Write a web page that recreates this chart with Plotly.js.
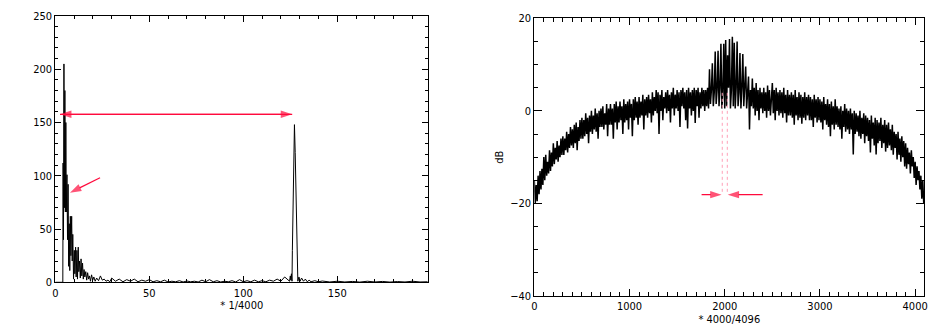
<!DOCTYPE html>
<html><head><meta charset="utf-8">
<script src="https://cdn.plot.ly/plotly-3.0.1.min.js"></script>
<style>html,body{margin:0;padding:0;background:#fff;} #chart{width:943px;height:334px;}</style>
</head><body><div id="chart"></div>
<script>
// ---- Left panel: spectrum (x in units of 1/4000) ----
const specX = [0, 4.0, 4.15, 4.35, 4.6, 4.85, 5.1, 5.35, 5.6, 5.85, 6.2, 6.5, 6.8, 7.1, 7.4, 7.7, 8.0, 8.3, 8.7, 9.0,
  9.3, 9.7, 10.1, 10.4, 10.8, 11.1, 11.5, 11.8, 12.2, 12.5, 12.9, 13.3, 13.7, 14.1, 14.5, 14.9, 15.3, 15.7, 16.2, 16.7,
  17.2, 17.7, 18.2, 18.7, 19.3, 19.9, 20.5, 21.2, 22, 23, 24, 25, 26, 27, 28, 29,
  30, 32, 34, 36, 38, 40, 42, 44, 46, 48, 50, 52, 54, 56, 58, 60, 62, 64, 66, 68, 70, 72, 74, 76, 78,
  80, 82, 84, 86, 88, 90, 92, 94, 96, 98, 100, 102, 104, 106, 108, 110, 112, 114, 116, 118, 120, 122, 124,
  124.6, 125.0, 125.3, 125.6, 125.9, 126.1, 126.4, 126.8, 127.2, 127.6, 128.0, 128.3, 128.6, 129.0, 129.6, 130.2,
  131, 132, 133, 134, 135, 136, 138, 140, 142, 146, 150, 154, 158, 162, 166, 170, 174, 178, 182, 186, 190, 194, 198];
const specY = [0, 0, 112, 40, 205, 70, 180, 66, 150, 66, 101, 40, 92, 15, 55, 11, 62, 25, 62, 20,
  45, 3, 30, 8, 33, 5, 30, 3, 33, 10, 20, 4, 22, 6, 18, 3, 12, 5, 10, 2,
  9, 3, 6, 1, 7, 2, 5, 1, 4, 1.5, 6, 2, 3, 1, 2, 0.5,
  4, 1, 3, 0.5, 2.5, 1, 3, 0.5, 2, 1, 2.5, 0.5, 1.5, 0.5, 2, 0.3, 1, 0.5, 1.5, 0.3, 1.2, 0.5, 1, 0.3, 2,
  0.5, 2.5, 0.5, 1.5, 0.3, 1, 0.5, 1.5, 0.3, 2.5, 0.5, 1.5, 0.5, 2, 0.5, 1.5, 0.5, 2, 1, 3, 1, 5, 2,
  1, 6, 2, 8, 1, 30, 68, 124, 148, 122, 84, 38, 3, 1, 5, 1,
  4, 1, 3, 0.5, 2, 0.5, 1.5, 0.5, 1.2, 0.3, 1, 0.3, 0.8, 0.2, 1, 0.3, 0.8, 0.2, 0.7, 0.3, 1, 0.3, 0.5];
const leftXTicks = [0, 50, 100, 150];
const leftYTicks = [0, 50, 100, 150, 200, 250];
const leftArrowFromX = [126, 2.5, 23.8];
const leftArrowFromY = [157.7, 157.7, 98.2];
const leftArrowToX = [2.5, 126, 7.8];
const leftArrowToY = [157.7, 157.7, 84.1];

// ---- Right panel: dB spectrum, one value every dbStep bins ----
const dbStep = 10;
const dbValues = [
  -15, -20, -16, -19.5, -14, -18, -13, -17, -12.5, -16,
  -10, -15, -9.5, -14, -11, -13.5, -8.5, -13, -9, -12,
  -7, -11.5, -8, -10.5, -6.5, -11, -7.5, -10, -6, -9.5,
  -5.5, -9.5, -6, -8.5, -4.5, -9, -5, -8, -3.5, -7.5,
  -4, -8, -3, -7, -2.5, -8.5, -3.5, -6.5, -2, -6,
  -1.5, -6, -2, -5.5, -0.5, -5, -1.5, -7, -1, -4.5,
  0, -5, -1, -4, 0.5, -4.5, -0.5, -6, 0, -3.5,
  0.5, -3.5, 1, -4, -0.5, -3, 1.5, -5.5, 0.5, -3,
  1.5, -3, 0.5, -6, 1.5, -2.5, 2, -4, 1, -2.5,
  2, -2, 1, -5, 2.5, -2.5, 1.5, -2, 2, -4,
  2.5, -1.5, 1.5, -5.5, 2.5, -2, 3, -1.5, 2, -3,
  3, -1.5, 2, -1, 3.5, -4, 2.5, -1, 3, -1.5,
  3.5, -0.5, 2.5, -2.5, 4, -1, 3, 0, 4.5, -0.5,
  4, -5, 3.5, 0, 4.5, -2, 3, 0.5, 4, -0.5,
  4.5, 0, 3.5, -2.5, 4, 0.5, 5, -1, 3.5, 0.5,
  4.5, 0, 4, -3.5, 4.5, 1, 5, 0.5, 4, -2,
  4.5, -3.8, 5, 0.5, 4, -1, 4.5, 0, 5, -2.6,
  4.5, 1, 5, -1.5, 4, 0.5, 5, 1, 4.5, 0,
  4.5, 1, 5, 0.5, 9, 1.5, 4.5, 10.3, 1, 4,
  12.8, 1.5, 4.5, 13, 1, 5, 14.5, 0.5, 4, 14.5,
  0.5, 15.3, 1, 12, 5, 15.5, 0.5, 4.5, 16, 1,
  14.7, 0.5, 5, 15, 1, 4, 12.5, 0.5, 5, 12.3,
  1, 4.5, 9.6, 0.5, 5, 7.4, -4, 4.5, 1, 7,
  0.5, 5, -1, 6, 0, 4.5, -2, 5, 0.5, 4,
  -0.5, 5, 0, 4, -1.5, 5.5, 0, 4.5, -1, 4,
  6, -0.5, 4.5, -2, 5, 0, 4, -1, 4.5, -0.5,
  4, -1.5, 5, -0.5, 3.5, -2.5, 4.5, -1, 3.5, -1,
  4, -1.5, 3.5, -3, 4.5, -1, 3, -2, 4, -1.5,
  3.5, -2.8, 3, -1.5, 4, -2, 3, -1, 3.5, -2,
  3, -2, 2.5, -3.5, 3.5, -1.5, 2.5, -2.5, 3, -2,
  2.5, -2.5, 2, -4, 3, -2, 1.5, -3, 2.5, -3.5,
  1.5, -5.5, 2, -3, 1, -4, 2.5, -3, 1, -3.5,
  0.5, -4, 1, -6, 0, -3.5, 1.5, -4.5, 0.5, -4,
  0, -5, 0.5, -4, -0.5, -9.4, 0, -5, -0.5, -4.5,
  -1, -5.5, 0, -6, -1.5, -5, -0.5, -7, -1, -5.5,
  -1.5, -6.5, -2, -9, -1, -6, -2.5, -7.5, -1.5, -9.4,
  -2, -7, -2.5, -6.5, -1.5, -8, -3, -7, -2, -8.8,
  -3, -8, -2.5, -7.5, -4, -8.5, -3, -9.5, -4.5, -8,
  -5, -10.5, -4.5, -9.5, -6, -11, -5.5, -10, -6.5, -12,
  -7, -12.5, -8, -11.5, -9, -13.5, -8.5, -12, -10, -14.5,
  -11, -16, -12, -15, -13, -17, -14, -19, -15, -20
];
const rightXTicks = [0, 1000, 2000, 3000, 4000];
const rightYTicks = [-40, -20, 0, 20];
const guideX = [1974, 2027];
const guideTop = 3.9, guideBottom = -18.1;
const rightArrowFromX = [1757, 2398];
const rightArrowToX = [1967, 2031];
const rightArrowY = [-18.1, -18.1];

// ---- build ----
const W = 943, H = 334;
const RED = '#ff0a3c';
const FONT = {family: '"DejaVu Sans Condensed", "Liberation Sans Narrow", "DejaVu Sans", sans-serif', size: 11, color: '#000'};
const dbX = dbValues.map((_, i) => i * dbStep);

const traces = [
  {x: specX, y: specY, xaxis: 'x', yaxis: 'y', mode: 'lines', line: {color: '#000', width: 1}, hoverinfo: 'skip'},
  {x: dbX, y: dbValues, xaxis: 'x2', yaxis: 'y2', mode: 'lines', line: {color: '#000', width: 1.5}, hoverinfo: 'skip'}
];
function arrowTrace(x0, y0, x1, y1, xa, ya) {
  return {x: [x0, x1], y: [y0, y1], xaxis: xa, yaxis: ya, mode: 'lines+markers',
    line: {color: RED, width: 1.2},
    marker: {symbol: 'arrow', angleref: 'previous', size: [0, 12], color: RED, line: {width: 0}},
    hoverinfo: 'skip', cliponaxis: false};
}
leftArrowFromX.forEach((v, i) => traces.push(arrowTrace(v, leftArrowFromY[i], leftArrowToX[i], leftArrowToY[i], 'x', 'y')));
rightArrowFromX.forEach((v, i) => traces.push(arrowTrace(v, rightArrowY[i], rightArrowToX[i], rightArrowY[i], 'x2', 'y2')));

const shapes = guideX.map(g => ({type: 'line', xref: 'x2', yref: 'y2', x0: g, x1: g, y0: guideTop, y1: guideBottom,
  line: {color: '#ffa0b8', width: 1, dash: 'dot'}}));

function axisBase(extra) {
  return Object.assign({
    showline: true, linecolor: '#000', linewidth: 1, mirror: 'allticks',
    ticks: 'inside', tickcolor: '#000', tickwidth: 1, showgrid: false, zeroline: false,
    tickfont: FONT, tickmode: 'array', automargin: false, fixedrange: true
  }, extra);
}
const layout = {
  width: W, height: H, margin: {l: 0, r: 0, t: 0, b: 0},
  paper_bgcolor: '#fff', plot_bgcolor: '#fff', showlegend: false,
  font: FONT, shapes: shapes,
  xaxis: axisBase({domain: [55.3 / W, 428.3 / W], anchor: 'y', range: [0, 198.4], tickvals: leftXTicks,
    ticklen: 6, minor: {dtick: 10, ticklen: 3, ticks: 'inside', tickcolor: '#000', showgrid: false},
    title: {text: '* 1/4000', font: FONT, standoff: 0}}),
  yaxis: axisBase({domain: [(H - 282.3) / H, (H - 16) / H], anchor: 'x', range: [0, 250], tickvals: leftYTicks,
    ticklen: 6, minor: {dtick: 10, ticklen: 3, ticks: 'inside', tickcolor: '#000', showgrid: false}}),
  xaxis2: axisBase({domain: [534.3 / W, 924.3 / W], anchor: 'y2', range: [0, 4096], tickvals: rightXTicks,
    ticklen: 7, minor: {dtick: 100, ticklen: 4, ticks: 'inside', tickcolor: '#000', showgrid: false},
    title: {text: '* 4000/4096', font: FONT, standoff: 1}}),
  yaxis2: axisBase({domain: [(H - 296) / H, (H - 18.3) / H], anchor: 'x2', range: [-40, 20], tickvals: rightYTicks,
    ticklen: 8, minor: {dtick: 5, ticklen: 4, ticks: 'inside', tickcolor: '#000', showgrid: false},
    title: {text: 'dB', font: FONT, standoff: 4}})
};
Plotly.newPlot('chart', traces, layout, {staticPlot: true, displayModeBar: false});
</script></body></html>
